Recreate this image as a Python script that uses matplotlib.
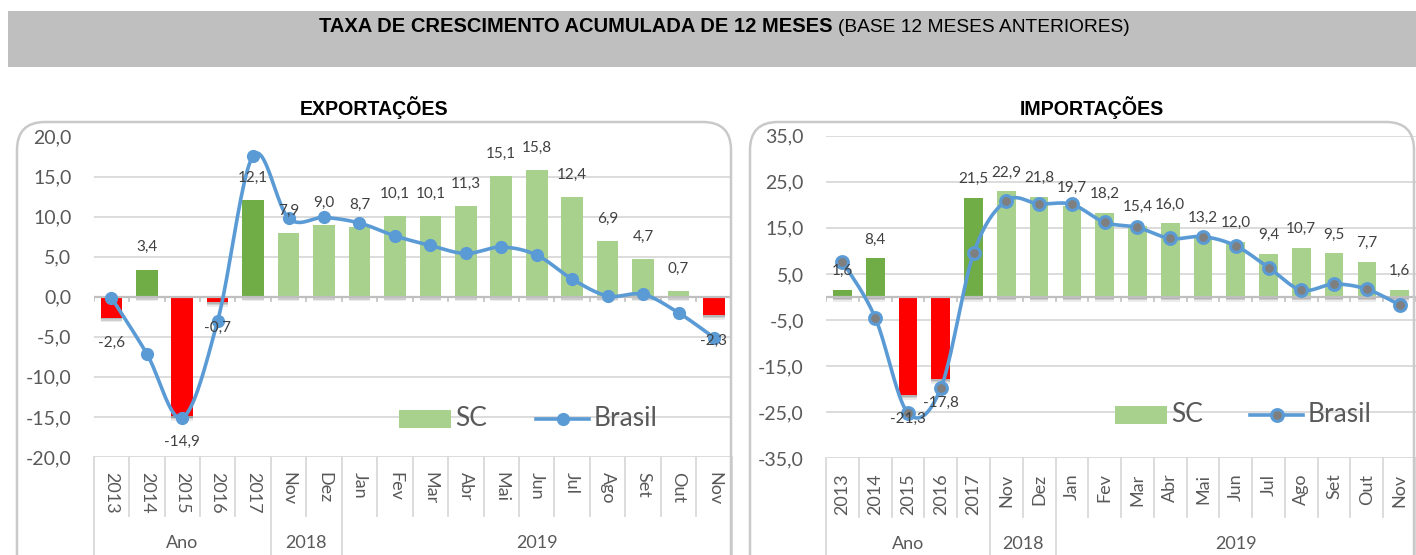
import matplotlib
matplotlib.use("Agg")
import matplotlib.pyplot as plt
import numpy as np
from matplotlib.patches import Rectangle, FancyBboxPatch
from matplotlib.lines import Line2D
from matplotlib.transforms import IdentityTransform, blended_transform_factory

W, H = 1416, 555

categories = ['2013', '2014', '2015', '2016', '2017', 'Nov', 'Dez', 'Jan', 'Fev',
              'Mar', 'Abr', 'Mai', 'Jun', 'Jul', 'Ago', 'Set', 'Out', 'Nov']
groups = [('Ano', 0, 4), ('2018', 5, 6), ('2019', 7, 17)]
n_annual = 5

# exportacoes
exp_sc = [-2.6, 3.4, -14.9, -0.7, 12.1, 7.9, 9.0, 8.7, 10.1, 10.1, 11.3, 15.1, 15.8,
          12.4, 6.9, 4.7, 0.7, -2.3]
exp_br = [-0.1, -7.1, -15.1, -3.0, 17.6, 9.8, 9.9, 9.2, 7.6, 6.4, 5.4, 6.2, 5.2,
          2.2, 0.1, 0.3, -2.0, -5.1]
# importacoes
imp_sc = [1.6, 8.4, -21.3, -17.8, 21.5, 22.9, 21.8, 19.7, 18.2, 15.4, 16.0, 13.2, 12.0,
          9.4, 10.7, 9.5, 7.7, 1.6]
imp_br = [7.7, -4.5, -25.2, -19.8, 9.5, 20.9, 20.2, 20.1, 16.2, 15.1, 12.7, 13.1, 11.1,
          6.4, 1.5, 2.8, 1.7, -1.7]

exp_ticks = [-20, -15, -10, -5, 0, 5, 10, 15, 20]
imp_ticks = [-35, -25, -15, -5, 5, 15, 25, 35]

DARK_GREEN = '#70AD47'
LIGHT_GREEN = '#A9D18E'
RED = '#FF0000'
BLUE = '#5B9BD5'
GRID = '#D9D9D9'
TXT = '#595959'
LBL = '#404040'
FONT = 'Lato'


def fmt(v):
    return f"{v:.1f}".replace('.', ',')


def smooth(y, n=24):
    # bezier smoothing like a spreadsheet "smoothed line"
    x = np.arange(len(y), dtype=float)
    y = np.asarray(y, dtype=float)
    pts = np.column_stack([x, y])
    ext = np.vstack([pts[0], pts, pts[-1]])
    t = np.linspace(0, 1, n)[:, None]
    out = []
    for i in range(len(pts) - 1):
        p0, p3 = pts[i], pts[i + 1]
        p1 = p0 + (ext[i + 2] - ext[i]) / 6
        p2 = p3 - (ext[i + 3] - ext[i + 1]) / 6
        seg = (1 - t) ** 3 * p0 + 3 * (1 - t) ** 2 * t * p1 + 3 * (1 - t) * t ** 2 * p2 + t ** 3 * p3
        out.append(seg if i == 0 else seg[1:])
    out = np.vstack(out)
    return out[:, 0], out[:, 1]


def px_axes(fig, left, top, right, bottom):
    return fig.add_axes([left / W, 1 - bottom / H, (right - left) / W, (bottom - top) / H])


def draw_chart(ax, sc, br, ticks, rot, up_pt, down_pt, width, hollow):
    x = np.arange(len(categories))
    lo, hi = ticks[0], ticks[-1]
    ax.set_xlim(-0.5, len(categories) - 0.5)
    ax.set_ylim(lo, hi)
    for s in ax.spines.values():
        s.set_visible(False)
    ax.set_yticks(ticks)
    ax.set_yticklabels([fmt(t) for t in ticks], fontsize=14, color=TXT, family=FONT)
    ax.tick_params(axis='y', length=0, pad=16)
    ax.set_xticks(x)
    ax.set_xticklabels(categories, rotation=rot, fontsize=13, color=TXT, family=FONT,
                       va='top', ha='center')
    ax.tick_params(axis='x', length=0, pad=11)
    for t in ticks:
        ax.axhline(t, color=GRID, lw=1.3, zorder=0)

    colors = []
    for i, v in enumerate(sc):
        if v < 0:
            colors.append(RED)
        elif i < n_annual:
            colors.append(DARK_GREEN)
        else:
            colors.append(LIGHT_GREEN)

    # soft drop shadow under the bars
    span = hi - lo
    ppu = ax.get_position().height * H / span
    for k, a in [(4.5, 0.08), (3.0, 0.12), (1.5, 0.12)]:
        ax.bar(x, sc, width=width, bottom=-k / ppu, color='black', alpha=a,
               zorder=1.5, linewidth=0)
    ax.bar(x, sc, width=width, color=colors, zorder=2, linewidth=0)

    # category axis at zero with small ticks
    ax.axhline(0, color='#BFBFBF', lw=1.6, zorder=2.2)
    for b in np.arange(len(categories) + 1) - 0.5:
        ax.plot([b, b], [0, -4 / ppu], color='#BFBFBF', lw=1.2, zorder=2.2)

    sx, sy = smooth(br)
    ax.plot(sx, sy, color=BLUE, lw=2.6, zorder=3, solid_capstyle='round')
    if hollow:
        ax.plot(x, br, ls='none', marker='o', ms=8.5, mfc='#7F7F7F', mec=BLUE,
                mew=2.2, zorder=4)
    else:
        ax.plot(x, br, ls='none', marker='o', ms=8.5, mfc=BLUE, mec=BLUE, zorder=4)

    for i, v in enumerate(sc):
        off_pt = up_pt if v >= 0 else -down_pt
        ax.annotate(fmt(v), (i, v), xytext=(0, off_pt), textcoords='offset points',
                    ha='center', va='center', fontsize=11, color=LBL, family=FONT,
                    zorder=5)

    # multi-level category separators below the plot area
    tr = blended_transform_factory(ax.transData, ax.transAxes)
    h_ax = ax.get_position().height * H
    tick_band = 59 / h_ax
    full_band = 110 / h_ax
    group_edges = {0, 5, 7, len(categories)}
    for i in range(len(categories) + 1):
        depth = full_band if i in group_edges else tick_band
        ax.add_line(Line2D([i - 0.5, i - 0.5], [0, -depth], transform=tr, color=GRID,
                           lw=1.3, clip_on=False))
    for name, a, b in groups:
        ax.text((a + b) / 2, -86 / h_ax, name, transform=tr, ha='center', va='center',
                fontsize=13, color=TXT, family=FONT)


def legend(fig, patch_x, line_x, y, hollow):
    tr = IdentityTransform()
    yy = H - y
    fig.add_artist(Rectangle((patch_x, yy - 9), 52, 18, facecolor=LIGHT_GREEN,
                             edgecolor='none', transform=tr))
    fig.text((patch_x + 56) / W, yy / H, 'SC', fontsize=19, color=TXT, family=FONT,
             ha='left', va='center')
    fig.add_artist(Line2D([line_x, line_x + 53], [yy, yy], color=BLUE, lw=2.6,
                          transform=tr))
    if hollow:
        fig.add_artist(Line2D([line_x + 26.5], [yy], ls='none', marker='o', ms=8.5,
                              mfc='#7F7F7F', mec=BLUE, mew=2.2, transform=tr))
    else:
        fig.add_artist(Line2D([line_x + 26.5], [yy], ls='none', marker='o', ms=8.5,
                              mfc=BLUE, mec=BLUE, transform=tr))
    fig.text((line_x + 58) / W, yy / H, 'Brasil', fontsize=19, color=TXT, family=FONT,
             ha='left', va='center')


fig = plt.figure(figsize=(W / 100, H / 100), dpi=100)
fig.patch.set_facecolor('white')
ident = IdentityTransform()

# header band
fig.add_artist(Rectangle((8, H - 67), W - 8, 56, facecolor='#BFBFBF', edgecolor='none',
                         transform=ident))
title_font = ['Liberation Sans', 'DejaVu Sans']
fig.text(833 / W, 1 - 27 / H, 'TAXA DE CRESCIMENTO ACUMULADA DE 12 MESES', ha='right',
         va='center', fontsize=14.5, fontweight='bold', family=title_font, color='black')
fig.text(838 / W, 1 - 27 / H, '(BASE 12 MESES ANTERIORES)', ha='left', va='center',
         fontsize=13.8, family=title_font, color='black')

fig.text(374 / W, 1 - 108 / H, 'EXPORTAÇÕES', ha='center', va='center', fontsize=14.1,
         fontweight='bold', family=title_font)
fig.text(1092 / W, 1 - 108 / H, 'IMPORTAÇÕES', ha='center', va='center', fontsize=14.1,
         fontweight='bold', family=title_font)

# rounded panel frames
for x0, x1 in [(17, 731), (750, 1414)]:
    fig.add_artist(FancyBboxPatch((x0, -40), x1 - x0, H - 122 + 40,
                                  boxstyle='round,pad=0,rounding_size=28',
                                  facecolor='none', edgecolor='#C9C9C9', lw=1.8,
                                  transform=ident))

ax1 = px_axes(fig, 93.6, 136.5, 731.7, 457)
draw_chart(ax1, exp_sc, exp_br, exp_ticks, 270, 16, 18.5, 0.61, False)

ax2 = px_axes(fig, 826.1, 135.7, 1416, 458.3)
draw_chart(ax2, imp_sc, imp_br, imp_ticks, 90, 13.5, 17, 0.57, True)

legend(fig, 399, 536, 419, False)
legend(fig, 1115, 1250, 415, True)

fig.savefig('out.png', dpi=100)
